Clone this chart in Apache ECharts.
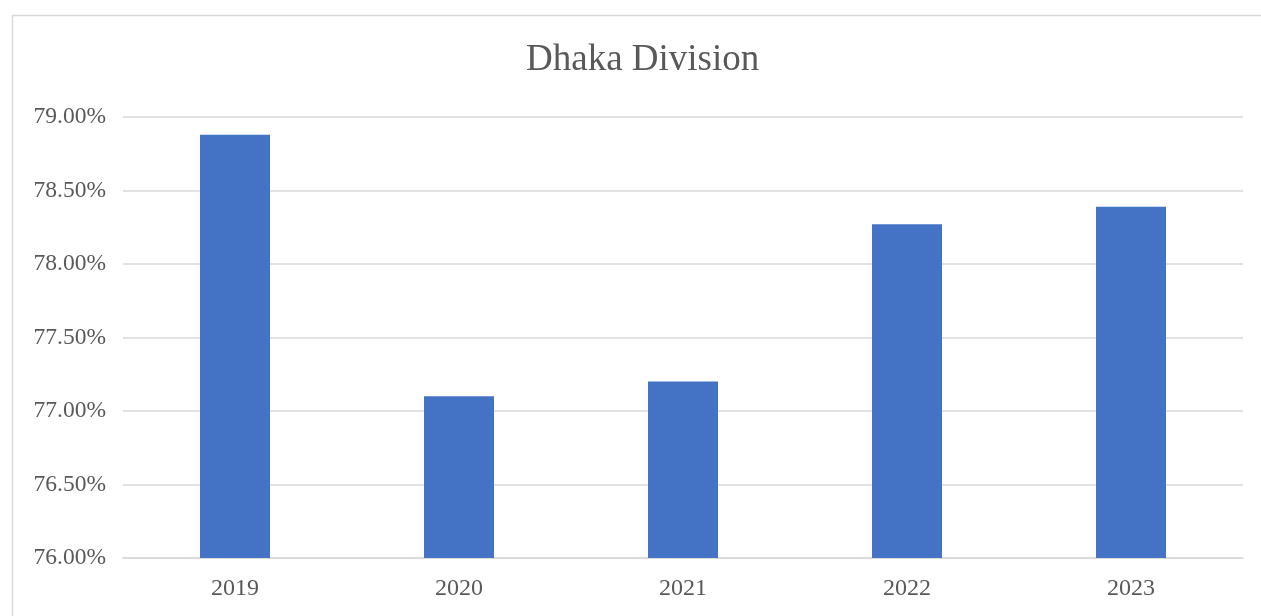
<!DOCTYPE html>
<html>
<head>
<meta charset="utf-8">
<script src="https://cdn.jsdelivr.net/npm/echarts@6/dist/echarts.min.js"></script>
<style>
  html, body { margin: 0; padding: 0; background: #ffffff; }
  #chart { width: 1261px; height: 616px; }
</style>
</head>
<body>
<div id="chart"></div>
<script>
// Share of each year, in percent
const years = ['2019', '2020', '2021', '2022', '2023'];
const shares = [78.88, 77.10, 77.20, 78.27, 78.39];
const chartTitle = 'Dhaka Division';

const serif = '"Liberation Serif", "Times New Roman", serif';
const textGray = '#595959';
const gridGray = '#d9d9d9';

const chart = echarts.init(document.getElementById('chart'));
chart.setOption({
  animation: false,
  backgroundColor: '#ffffff',
  title: {
    text: chartTitle,
    left: 521,
    top: 37,
    textStyle: { fontFamily: serif, fontSize: 37, fontWeight: 'normal', color: textGray }
  },
  graphic: [{
    type: 'rect',
    shape: { x: 12.5, y: 15.5, width: 1400, height: 800 },
    style: { fill: 'none', stroke: gridGray, lineWidth: 1.5 },
    silent: true,
    z: 0
  }],
  grid: { left: 123, right: 18, top: 117, bottom: 58 },
  xAxis: {
    type: 'category',
    data: years,
    axisLine: { show: true, lineStyle: { color: gridGray, width: 1.5 } },
    axisTick: { show: false },
    axisLabel: { fontFamily: serif, fontSize: 24, color: textGray, margin: 19 }
  },
  yAxis: {
    type: 'value',
    min: 76,
    max: 79,
    interval: 0.5,
    axisLine: { show: false },
    axisTick: { show: false },
    splitLine: { lineStyle: { color: gridGray, width: 1.5 } },
    axisLabel: {
      fontFamily: serif, fontSize: 23.5, color: textGray, margin: 17,
      formatter: v => v.toFixed(2) + '%'
    }
  },
  series: [{
    type: 'bar',
    data: shares,
    barWidth: 70,
    itemStyle: { color: '#4472c4' }
  }]
});
</script>
</body>
</html>
